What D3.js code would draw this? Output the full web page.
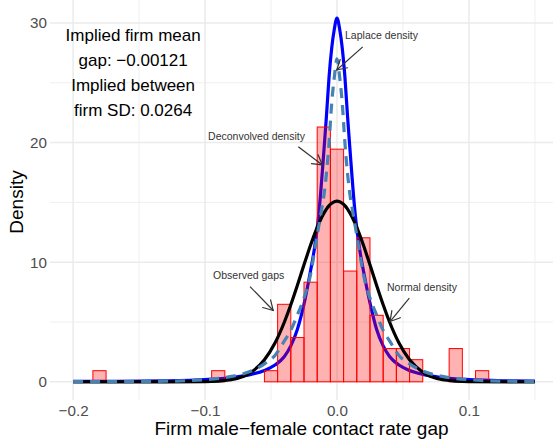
<!DOCTYPE html>
<html><head><meta charset="utf-8">
<script src="https://cdn.jsdelivr.net/npm/d3@7"></script>
<style>
html,body{margin:0;padding:0;background:#fff;}
svg{display:block;font-family:"Liberation Sans",Arial,Helvetica,sans-serif;}
</style></head>
<body><svg id="c" width="553" height="440"></svg>
<script>
// ---- data ----
const binCenters = [-0.18,-0.09,-0.05,-0.04,-0.03,-0.02,-0.01,0.00,0.01,0.02,0.03,0.04,0.05,0.06,0.09,0.11];
const binDensity = [0.93,0.93,0.93,6.48,3.70,8.33,21.3,19.45,9.26,12.04,5.56,2.78,2.78,1.85,2.78,0.93];
const binWidth = 0.01;

const xGrid = [-0.2,-0.17,-0.13,-0.1,-0.08,-0.065,-0.055,-0.047,-0.04,-0.035,-0.03,-0.025,-0.02,-0.017,-0.014,-0.012,-0.01,-0.008,-0.006,-0.004,-0.002,
  0,0.002,0.004,0.006,0.008,0.01,0.012,0.014,0.017,0.02,0.025,0.03,0.035,0.04,0.047,0.055,0.065,0.08,0.1,0.13,0.15];
const laplaceY = [0.03,0.04,0.08,0.18,0.35,0.62,0.95,1.4,2.1,3.0,4.4,6.5,9.3,11.2,13.8,16.3,19.2,22.2,25.5,27.9,29.5,
  30.4,29.5,27.9,25.5,22.2,19.2,16.3,13.8,11.2,9.3,6.6,4.4,3.0,2.1,1.4,0.95,0.62,0.35,0.18,0.08,0.05];
const deconvY = [0.01,0.02,0.05,0.18,0.45,0.9,1.5,2.2,3.4,4.3,5.6,7.0,9.0,10.9,12.9,14.2,15.5,17.4,20.0,23.3,25.5,
  27.0,25.5,23.3,20.0,17.4,15.5,14.2,12.9,10.9,9.0,7.0,5.6,4.3,3.4,2.2,1.5,0.9,0.45,0.18,0.05,0.03];
const normalY = [0,0,0,0.01,0.18,0.8,1.84,3.24,4.96,6.44,8.07,9.78,11.43,12.35,13.18,13.66,14.08,14.44,14.73,14.93,15.06,
  15.1,15.06,14.93,14.73,14.44,14.08,13.66,13.18,12.35,11.43,9.78,8.07,6.44,4.96,3.24,1.84,0.8,0.18,0.01,0,0];

const xTicks = [-0.2,-0.1,0.0,0.1];
const xTickLabels = ["\u22120.2","\u22120.1","0.0","0.1"];
const xMinor = [-0.15,-0.05,0.05,0.15];
const yTicks = [0,10,20,30];
const yTickLabels = ["0","10","20","30"];
const yMinor = [5,15,25];

const infoLines = ["Implied firm mean","gap: \u22120.00121","Implied between","firm SD: 0.0264"];
const infoLineY = [29.0,26.9,24.8,22.7];
const annotations = [
  {label:"Laplace density", tx:0.0061, ty:29.0, x0:0.0195, y0:28.0, x1:-0.0002, y1:26.07},
  {label:"Deconvolved density", tx:-0.0977, ty:20.56, x0:-0.0293, y0:19.66, x1:-0.0111, y1:18.13},
  {label:"Observed gaps", tx:-0.0939, ty:8.94, x0:-0.0659, y0:7.96, x1:-0.0483, y1:5.96},
  {label:"Normal density", tx:0.0379, ty:7.94, x0:0.0548, y0:6.99, x1:0.0402, y1:5.04}
];

// ---- layout ----
const svg = d3.select("#c");
const L = 50, R = 558, T = 0, B = 400;
const x = d3.scaleLinear().domain([-0.2175, 0.1675]).range([L, R]);
const y = d3.scaleLinear().domain([-1.52, 31.92]).range([B, T]);

svg.append("defs").append("clipPath").attr("id","clip")
  .append("rect").attr("x",L).attr("y",T).attr("width",553-L).attr("height",B-T);

const grid = svg.append("g");
const gridCol = "#EBEBEB";
grid.selectAll(".xm").data(xMinor).join("line")
  .attr("x1",d=>x(d)).attr("x2",d=>x(d)).attr("y1",T).attr("y2",B)
  .attr("stroke",gridCol).attr("stroke-width",0.8);
grid.selectAll(".ym").data(yMinor).join("line")
  .attr("y1",d=>y(d)).attr("y2",d=>y(d)).attr("x1",L).attr("x2",553)
  .attr("stroke",gridCol).attr("stroke-width",0.8);
grid.selectAll(".xM").data(xTicks).join("line")
  .attr("x1",d=>x(d)).attr("x2",d=>x(d)).attr("y1",T).attr("y2",B)
  .attr("stroke",gridCol).attr("stroke-width",1.5);
grid.selectAll(".yM").data(yTicks).join("line")
  .attr("y1",d=>y(d)).attr("y2",d=>y(d)).attr("x1",L).attr("x2",553)
  .attr("stroke",gridCol).attr("stroke-width",1.5);

const plot = svg.append("g").attr("clip-path","url(#clip)");
const pts = ys => xGrid.map((d,i)=>[d, ys[i]]);
const line = d3.line().x(d=>x(d[0])).y(d=>y(d[1])).curve(d3.curveMonotoneX);

plot.append("path").attr("d", line(pts(laplaceY)))
  .attr("fill","none").attr("stroke","#0000FF").attr("stroke-width",3.2);

plot.selectAll(".bar").data(binCenters).join("rect")
  .attr("x",(d)=>x(d-binWidth/2)).attr("width",(d)=>x(d+binWidth/2)-x(d-binWidth/2))
  .attr("y",(d,i)=>y(binDensity[i])).attr("height",(d,i)=>y(0)-y(binDensity[i]))
  .attr("fill","rgba(255,0,0,0.3)").attr("stroke","#FF0000").attr("stroke-width",1);

plot.append("path").attr("d", line(pts(normalY)))
  .attr("fill","none").attr("stroke","#000").attr("stroke-width",3.2);
plot.append("path").attr("d", line(pts(deconvY)))
  .attr("fill","none").attr("stroke","#4682B4").attr("stroke-width",3.2)
  .attr("stroke-dasharray","10,7");

// annotations
const ann = svg.append("g");
const ac = "#333333";
annotations.forEach(a=>{
  ann.append("text").attr("x",x(a.tx)).attr("y",y(a.ty)+3.7)
    .attr("font-size",10.5).attr("fill",ac).text(a.label);
  const X0=x(a.x0),Y0=y(a.y0),X1=x(a.x1),Y1=y(a.y1);
  ann.append("line").attr("x1",X0).attr("y1",Y0).attr("x2",X1).attr("y2",Y1)
    .attr("stroke",ac).attr("stroke-width",1.2);
  const ang = Math.atan2(Y1-Y0, X1-X0), hl = 11, hw = Math.PI/6;
  [ang+Math.PI-hw, ang+Math.PI+hw].forEach(t=>{
    ann.append("line").attr("x1",X1).attr("y1",Y1)
      .attr("x2",X1+hl*Math.cos(t)).attr("y2",Y1+hl*Math.sin(t))
      .attr("stroke",ac).attr("stroke-width",1.2).attr("stroke-linecap","round");
  });
});

svg.append("g").selectAll("text").data(infoLines).join("text")
  .attr("x",x(-0.1545)).attr("y",(d,i)=>y(infoLineY[i])+6)
  .attr("text-anchor","middle").attr("font-size",17).attr("fill","#000").text(d=>d);

// axes
const xAxis = d3.axisBottom(x).tickValues(xTicks).tickSize(0).tickPadding(0)
  .tickFormat((d,i)=>xTickLabels[i]);
const gx = svg.append("g").attr("transform",`translate(0,${B+16})`).call(xAxis);
gx.select(".domain").remove();
gx.selectAll("text").attr("font-size",15.2).attr("fill","#4D4D4D")
  .attr("font-family","Liberation Sans, Arial, sans-serif").attr("dy",0);

const yAxis = d3.axisLeft(y).tickValues(yTicks).tickSize(0).tickPadding(0)
  .tickFormat((d,i)=>yTickLabels[i]);
const gy = svg.append("g").attr("transform",`translate(${L-3},0)`).call(yAxis);
gy.select(".domain").remove();
gy.selectAll("text").attr("font-size",15.2).attr("fill","#4D4D4D")
  .attr("font-family","Liberation Sans, Arial, sans-serif");

svg.append("text").attr("x",(L+553)/2).attr("y",435).attr("text-anchor","middle")
  .attr("font-size",19).attr("fill","#000").text("Firm male\u2212female contact rate gap");
svg.append("text").attr("transform","translate(23,202) rotate(-90)").attr("text-anchor","middle")
  .attr("font-size",19).attr("fill","#000").text("Density");
</script></body></html>
